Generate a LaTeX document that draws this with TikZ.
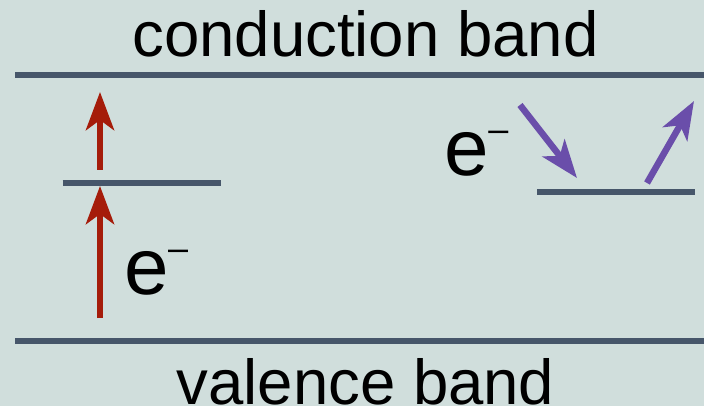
\documentclass[tikz,border=0pt]{standalone}
\usepackage{fontspec}
\setmainfont{Liberation Sans}
\usetikzlibrary{arrows.meta}
\definecolor{bgc}{RGB}{208,222,220}
\definecolor{bandc}{RGB}{70,86,106}
\definecolor{redc}{RGB}{165,28,10}
\definecolor{purc}{RGB}{106,78,170}
\tikzset{
  level/.style={draw=bandc, line width=6pt, line cap=butt},
  redarrow/.style={draw=redc, line width=6.5pt, -{Stealth[length=38pt, width=28pt, inset=10pt, fill=redc]}},
  purarrow/.style={draw=purc, line width=6.5pt, -{Stealth[length=38pt, width=28pt, inset=10pt, fill=purc]}},
  bandlabel/.style={inner sep=0pt, anchor=base, font=\fontsize{63.5pt}{70pt}\selectfont},
  elabel/.style={inner sep=0pt, anchor=base west, font=\fontsize{80pt}{90pt}\selectfont}
}
\newcommand{\eminus}{e\kern-1pt\raisebox{34pt}{\fontsize{36pt}{36pt}\selectfont –}}
\begin{document}
\begin{tikzpicture}[x=1pt, y=-1pt]
\fill[bgc] (0,0) rectangle (704,406);
\useasboundingbox (0,0) rectangle (704,406);
% band levels
\coordinate (cbL) at (15,75);   \coordinate (cbR) at (704,75);
\coordinate (vbL) at (15,341);  \coordinate (vbR) at (704,341);
\coordinate (lvL) at (62.7,183); \coordinate (lvR) at (220.7,183);
\coordinate (rvL) at (537.3,192.5); \coordinate (rvR) at (695,192.5);
\draw[level] (cbL) -- (cbR);
\draw[level] (vbL) -- (vbR);
\draw[level] (lvL) -- (lvR);
\draw[level] (rvL) -- (rvR);
% labels
\node[bandlabel] (cb) at (365.5,57) {conduction band};
\node[bandlabel] (vb) at (365.5,404) {valence band};
\node[elabel] (e1) at (124.4,294) {\eminus};
\node[elabel] (e2) at (444.7,176) {\eminus};
% red arrows
\coordinate (r1s) at (100,318); \coordinate (r1e) at (100,186);
\coordinate (r2s) at (100,170); \coordinate (r2e) at (100,92);
\draw[redarrow] (r1s) -- (r1e);
\draw[redarrow] (r2s) -- (r2e);
% purple arrows
\coordinate (p1s) at (520,105); \coordinate (p1e) at (577,178);
\coordinate (p2s) at (647,183); \coordinate (p2e) at (694,101);
\draw[purarrow] (p1s) -- (p1e);
\draw[purarrow] (p2s) -- (p2e);
\end{tikzpicture}
\end{document}
